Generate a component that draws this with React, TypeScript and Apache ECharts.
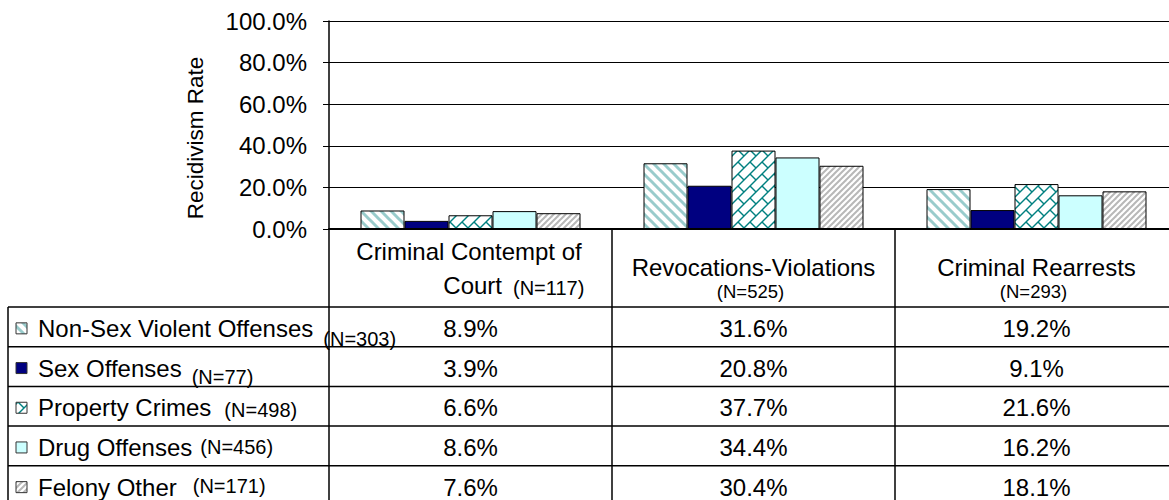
import React, { useEffect, useRef } from 'react';
import * as echarts from 'echarts';

const categories = ['Criminal Contempt of Court', 'Revocations-Violations', 'Criminal Rearrests'];
const categoryN = ['(N=117)', '(N=525)', '(N=293)'];
const seriesNames = ['Non-Sex Violent Offenses', 'Sex Offenses', 'Property Crimes', 'Drug Offenses', 'Felony Other'];
const seriesN = ['(N=303)', '(N=77)', '(N=498)', '(N=456)', '(N=171)'];
const nonSexViolent = [8.9, 31.6, 19.2];
const sexOffenses = [3.9, 20.8, 9.1];
const propertyCrimes = [6.6, 37.7, 21.6];
const drugOffenses = [8.6, 34.4, 16.2];
const felonyOther = [7.6, 30.4, 18.1];
const seriesValues = [nonSexViolent, sexOffenses, propertyCrimes, drugOffenses, felonyOther];

// layout of the legend "(N=...)" annotations (gap after name, vertical shift)
const legendNGap = [10, 10, 13, 8, 16];
const legendNDy = [11, 9, 2, 0, -1];

const FONT = '"Liberation Sans", Arial, sans-serif';

function stripes(period: number, width: number, color: string, down: boolean) {
  const c = document.createElement('canvas');
  c.width = period;
  c.height = period;
  const ctx = c.getContext('2d')!;
  ctx.fillStyle = '#ffffff';
  ctx.fillRect(0, 0, period, period);
  ctx.strokeStyle = color;
  ctx.lineWidth = width;
  for (let k = -2; k <= 2; k++) {
    ctx.beginPath();
    if (down) {
      ctx.moveTo(k * period - period, -period);
      ctx.lineTo(k * period + 2 * period, 2 * period);
    } else {
      ctx.moveTo(k * period - period, 2 * period);
      ctx.lineTo(k * period + 2 * period, -period);
    }
    ctx.stroke();
  }
  return { image: c, repeat: 'repeat', imageWidth: period, imageHeight: period };
}

function brick(t: number, color: string) {
  const c = document.createElement('canvas');
  c.width = t;
  c.height = t;
  const ctx = c.getContext('2d')!;
  ctx.fillStyle = '#ffffff';
  ctx.fillRect(0, 0, t, t);
  ctx.strokeStyle = color;
  ctx.lineWidth = 1.4;
  for (let k = -2; k <= 2; k++) {
    ctx.beginPath();
    ctx.moveTo(k * t - t, 2 * t);
    ctx.lineTo(k * t + 2 * t, -t);
    ctx.stroke();
  }
  ctx.beginPath();
  ctx.moveTo(t / 2, t / 2);
  ctx.lineTo(t, t);
  ctx.stroke();
  ctx.beginPath();
  ctx.moveTo(-t / 2, t / 2);
  ctx.lineTo(0, t);
  ctx.stroke();
  ctx.beginPath();
  ctx.moveTo(t / 2, -t / 2);
  ctx.lineTo(t, 0);
  ctx.stroke();
  return { image: c, repeat: 'repeat', imageWidth: t, imageHeight: t };
}

export default function App() {
  const ref = useRef<HTMLDivElement>(null);
  useEffect(() => {
    document.body.style.margin = '0';
    const chart = echarts.init(ref.current!, null, { renderer: 'svg' });
    const fills: any[] = [
      stripes(10, 3, '#99cccc', true),
      '#000080',
      brick(12, '#008080'),
      '#ccffff',
      stripes(6, 2, '#b8b8b8', false),
    ];
    chart.setOption({
      animation: false,
      grid: { left: 329, top: 21, width: 849, height: 208, containLabel: false, outerBoundsMode: 'none' },
      xAxis: {
        type: 'category',
        data: categories,
        axisLine: { show: true, lineStyle: { color: '#000', width: 2 } },
        axisTick: { show: false },
        axisLabel: { show: false },
        splitLine: { show: false },
      },
      yAxis: {
        type: 'value',
        min: 0,
        max: 100,
        interval: 20,
        axisLine: { show: true, lineStyle: { color: '#000', width: 1.5 } },
        axisTick: { show: true, length: 6, lineStyle: { color: '#000', width: 1 } },
        splitLine: { show: true, lineStyle: { color: '#000', width: 1 } },
        axisLabel: {
          fontSize: 24,
          fontFamily: FONT,
          color: '#000',
          margin: 22,
          formatter: (v: number) => v.toFixed(1) + '%',
        },
      },
      series: seriesValues.map((vals, i) => ({
        name: seriesNames[i],
        type: 'bar',
        data: vals,
        barWidth: 44,
        barGap: '0%',
        itemStyle: { color: fills[i], borderColor: '#000', borderWidth: 1 },
      })),
    });

    const cx = categories.map((c) => chart.convertToPixel({ xAxisIndex: 0 }, c) as number);
    const y0 = chart.convertToPixel({ yAxisIndex: 0 }, 0) as number;
    const catW = cx[1] - cx[0];
    const W = chart.getWidth();
    const headerBottom = y0 + 78;
    const rowH = 39.7;
    const tableBottom = headerBottom + rowH * seriesNames.length;
    const leftX = 8;
    const axisX = cx[0] - catW / 2;

    const mctx = document.createElement('canvas').getContext('2d')!;
    mctx.font = '24px "Liberation Sans"';

    const els: any[] = [];
    const line = (x1: number, y1: number, x2: number, y2: number, w = 1.5) =>
      els.push({ type: 'line', silent: true, z: 10, shape: { x1, y1, x2, y2 }, style: { stroke: '#000', lineWidth: w } });
    const text = (t: string, x: number, y: number, size: number, align = 'center', extra: any = {}) =>
      els.push({
        type: 'text',
        silent: true,
        z: 11,
        x,
        y,
        ...extra,
        style: { text: t, fontSize: size, fontFamily: FONT, fill: '#000', align, verticalAlign: 'middle' },
      });

    // table grid
    for (let i = 0; i <= seriesNames.length; i++) {
      const y = headerBottom + rowH * i;
      line(leftX, y, W, y);
    }
    line(leftX, headerBottom, leftX, tableBottom);
    line(axisX, y0, axisX, tableBottom);
    for (let j = 1; j < categories.length; j++) {
      const x = cx[j] - catW / 2;
      line(x, y0, x, tableBottom);
    }

    // header cells
    categories.forEach((name, j) => {
      const w = mctx.measureText(name).width;
      if (w > 260) {
        const words = name.split(' ');
        const last = words.pop()!;
        text(words.join(' '), cx[j] - 1.5, y0 + 22, 24);
        text(last, cx[j] + 31.5, y0 + 56, 24, 'right');
        text(categoryN[j], cx[j] + 42.5, y0 + 59, 20, 'left');
      } else {
        text(name, cx[j], y0 + 38, 24);
        text(categoryN[j], cx[j] - 3, y0 + 62, 18.5);
      }
    });

    // rows
    seriesNames.forEach((name, i) => {
      const yc = headerBottom + rowH * (i + 0.5) + 1.5;
      els.push({
        type: 'rect',
        silent: true,
        z: 11,
        shape: { x: 16, y: yc - 5.5, width: 11, height: 11 },
        style: { fill: fills[i], stroke: '#333', lineWidth: 1 },
      });
      text(name, 38, yc, 24, 'left');
      const w = mctx.measureText(name).width;
      text(seriesN[i], 38 + w + legendNGap[i], yc + legendNDy[i], 20, 'left');
      seriesValues[i].forEach((v, j) => {
        text(v.toFixed(1) + '%', cx[j], yc, 24);
      });
    });

    // axis title
    text('Recidivism Rate', 195, 138, 22.5, 'center', { rotation: Math.PI / 2 });

    chart.setOption({ graphic: { elements: els } });
    return () => chart.dispose();
  }, []);
  return <div ref={ref} style={{ width: 1169, height: 500 }} />;
}
